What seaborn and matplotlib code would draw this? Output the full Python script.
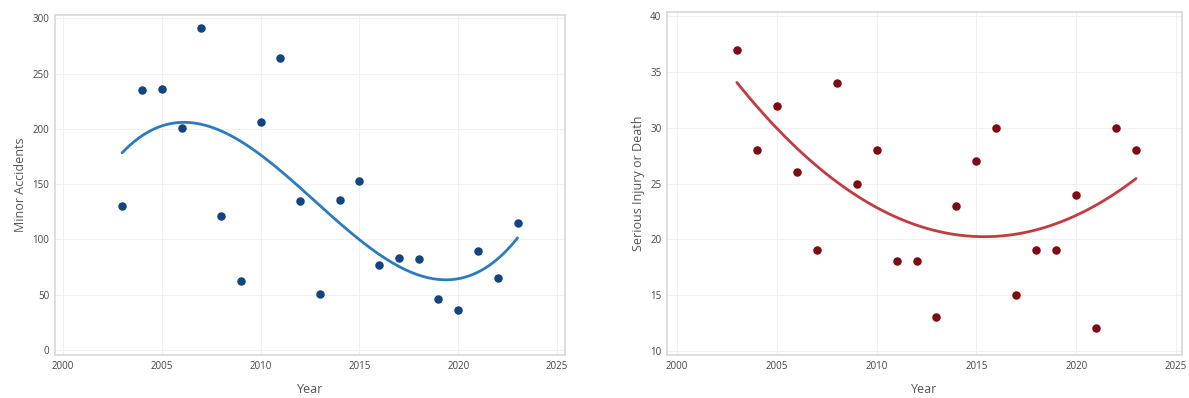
import seaborn as sns
import matplotlib.pyplot as plt
import pandas as pd

# Values
years = list(range(2003, 2024))
minor_accidents = [130, 235, 236, 201, 291, 121, 62, 206, 264, 135, 51,
                   136, 153, 77, 83, 82, 46, 36, 90, 65, 115]
serious_injury = [37, 28, 32, 26, 19, 34, 25, 28, 18, 18, 13,
                  23, 27, 30, 15, 19, 19, 24, 12, 30, 28]

df = pd.DataFrame({'Year': years,
                   'Minor Accidents': minor_accidents,
                   'Serious Injury or Death': serious_injury})

sns.set_style("whitegrid")
plt.rcParams['font.family'] = ['Open Sans', 'DejaVu Sans']

fig = plt.figure(figsize=(11.89, 3.98), dpi=100)
ax1 = fig.add_axes([55 / 1189, 43 / 398, 510 / 1189, 340 / 398])
ax2 = fig.add_axes([667 / 1189, 43 / 398, 515 / 1189, 343 / 398])

label_color = '#555555'

# Left: minor accidents with cubic trend
sns.regplot(data=df, x='Year', y='Minor Accidents', order=3, ci=None, ax=ax1,
            scatter_kws={'s': 26, 'color': '#10457f', 'alpha': 1, 'zorder': 3},
            line_kws={'color': '#2b7bc0', 'lw': 2})
ax1.set_xlim(1999.6, 2025.4)
ax1.set_ylim(-4.5, 303)
ax1.set_yticks([0, 50, 100, 150, 200, 250, 300])

# Right: serious injury with quadratic trend
sns.regplot(data=df, x='Year', y='Serious Injury or Death', order=2, ci=None, ax=ax2,
            scatter_kws={'s': 26, 'color': '#7e0a12', 'alpha': 1, 'zorder': 3},
            line_kws={'color': '#c43a3d', 'lw': 2})
ax2.set_xlim(1999.5, 2025.3)
ax2.set_ylim(9.6, 40.4)
ax2.set_yticks([10, 15, 20, 25, 30, 35, 40])

for ax in (ax1, ax2):
    ax.set_xticks([2000, 2005, 2010, 2015, 2020, 2025])
    ax.tick_params(labelsize=7, colors='#444444', length=0, pad=4)
    ax.grid(True, color='#f0f0f0', lw=0.8)
    for sp in ax.spines.values():
        sp.set_color('#d8d8d8')
        sp.set_linewidth(1.2)
    ax.set_xlabel('Year', fontsize=9, color=label_color, labelpad=8)
    ax.yaxis.label.set_color(label_color)
    ax.yaxis.label.set_fontsize(9)

plt.savefig('out.png', dpi=100)
